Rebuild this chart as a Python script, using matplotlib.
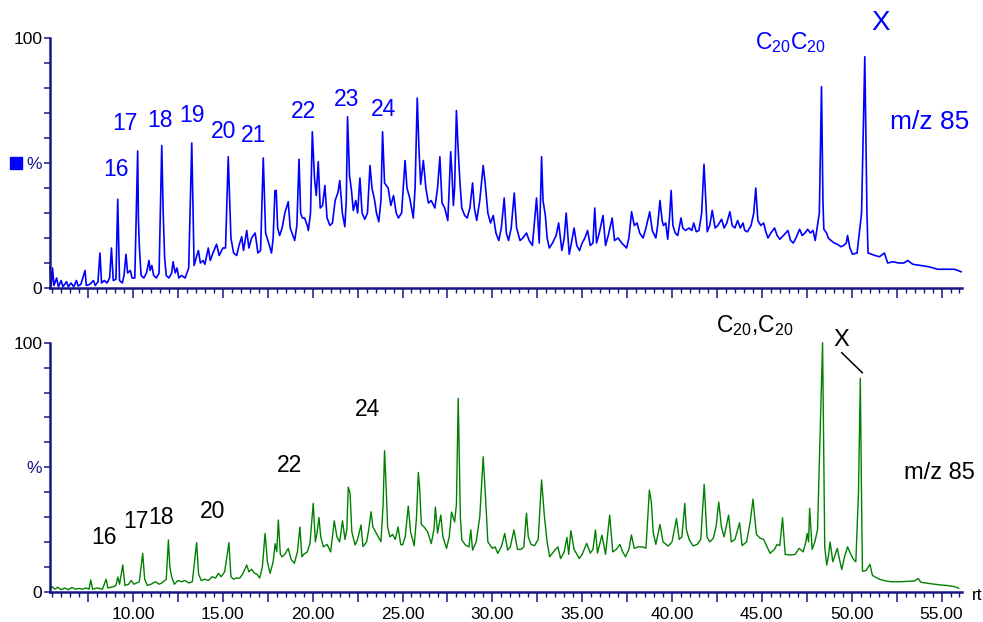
import numpy as np
import matplotlib
matplotlib.use('Agg')
import matplotlib.pyplot as plt
from matplotlib.ticker import MultipleLocator, FixedLocator, FuncFormatter
from matplotlib.patches import Rectangle
from matplotlib.lines import Line2D

plt.rcParams['font.family'] = ['Liberation Sans', 'DejaVu Sans']
plt.rcParams['mathtext.default'] = 'regular'

# traced chromatograms, (retention time, % of base peak)
top_trace = [
    (5.38, 8.5), (5.45, 1), (5.52, 8), (5.6, 1), (5.75, 4), (5.85, 0.5), (6.0, 3), (6.1, 0.5),
    (6.3, 2.5), (6.4, 0.5), (6.55, 2), (6.7, 0.5), (6.85, 3), (6.95, 0.8), (7.1, 1.5), (7.33, 7),
    (7.4, 1), (7.6, 1.5), (7.8, 3), (7.9, 1), (8.05, 2.5), (8.16, 14), (8.25, 2), (8.4, 3),
    (8.55, 2), (8.7, 4), (8.8, 16), (8.9, 3), (9.05, 3.5), (9.15, 35.5), (9.25, 3), (9.4, 2),
    (9.5, 5), (9.61, 13.5), (9.7, 6), (9.85, 7), (9.95, 4), (10.1, 4), (10.26, 54.8), (10.3, 28),
    (10.35, 17), (10.45, 5), (10.6, 4), (10.75, 6), (10.89, 11), (10.95, 7), (11.05, 9), (11.15, 5),
    (11.3, 4), (11.45, 6), (11.6, 57), (11.68, 30), (11.76, 12), (11.85, 5), (12.0, 4), (12.15, 6),
    (12.23, 10.5), (12.35, 6), (12.45, 8), (12.55, 4), (12.7, 5), (12.9, 4), (13.1, 8), (13.27, 58),
    (13.4, 9), (13.55, 13), (13.64, 15), (13.75, 10), (13.9, 11), (14.0, 9.5), (14.19, 16), (14.3, 11),
    (14.45, 14), (14.65, 17.5), (14.8, 13), (15.0, 16), (15.15, 16), (15.3, 52.5), (15.45, 20), (15.6, 14),
    (15.77, 13), (15.9, 17), (16.05, 20.5), (16.15, 15), (16.33, 23), (16.45, 16), (16.6, 20), (16.8, 22),
    (16.95, 14), (17.1, 15), (17.25, 52), (17.38, 22), (17.55, 18), (17.71, 14), (17.8, 20), (17.9, 39),
    (17.97, 39), (18.05, 24), (18.16, 21), (18.3, 24), (18.45, 30), (18.64, 34.5), (18.75, 24), (18.9, 21),
    (19.0, 19), (19.12, 25), (19.24, 51.5), (19.33, 30), (19.43, 28), (19.55, 28), (19.7, 25), (19.76, 23),
    (19.88, 30), (19.98, 62.5), (20.1, 44), (20.2, 37), (20.31, 50.5), (20.42, 32), (20.55, 33), (20.68, 41),
    (20.8, 28), (20.96, 25), (21.1, 26), (21.25, 35), (21.4, 38), (21.51, 43), (21.65, 30), (21.79, 24.5),
    (21.87, 35), (21.94, 68.5), (22.05, 45), (22.16, 39), (22.26, 31), (22.4, 35), (22.5, 30), (22.63, 44),
    (22.75, 30), (22.9, 27.5), (23.05, 30), (23.19, 49), (23.3, 40), (23.45, 35), (23.55, 30), (23.68, 26.5),
    (23.8, 35), (23.89, 62.5), (24.0, 42), (24.2, 40), (24.35, 33), (24.5, 37), (24.65, 30), (24.77, 28),
    (24.95, 30), (25.14, 51), (25.25, 40), (25.4, 36), (25.6, 28), (25.7, 40), (25.82, 76), (25.92, 55),
    (26.01, 41.5), (26.16, 51), (26.3, 40), (26.44, 34), (26.6, 35), (26.8, 32), (26.95, 40), (27.08, 52.5),
    (27.2, 34), (27.35, 32), (27.52, 27), (27.6, 40), (27.68, 54.5), (27.76, 45), (27.83, 33), (27.9, 40),
    (28.0, 71), (28.1, 55), (28.2, 42), (28.3, 32), (28.46, 29), (28.6, 28), (28.75, 32), (28.9, 42),
    (29.0, 32), (29.13, 27), (29.3, 35), (29.49, 49), (29.6, 42), (29.75, 30), (29.9, 26), (30.05, 29),
    (30.2, 22), (30.36, 19), (30.5, 24), (30.66, 36), (30.78, 22), (30.9, 19), (31.05, 24), (31.22, 38),
    (31.35, 24), (31.54, 19), (31.7, 20), (31.9, 22), (32.05, 19), (32.23, 17), (32.46, 36), (32.61, 18),
    (32.68, 35), (32.74, 52.5), (32.82, 35), (32.95, 29), (33.05, 20), (33.17, 16), (33.35, 18), (33.55, 21),
    (33.69, 26), (33.87, 15), (34.0, 20), (34.11, 30), (34.28, 13.5), (34.4, 18), (34.55, 24), (34.7, 17),
    (34.85, 15), (35.0, 18), (35.15, 20), (35.3, 23), (35.45, 17), (35.6, 18), (35.7, 32), (35.8, 18),
    (35.95, 22), (36.16, 29), (36.3, 17), (36.45, 21), (36.67, 28), (36.8, 19), (37.0, 20), (37.2, 18),
    (37.47, 16), (37.6, 20), (37.75, 30.5), (37.9, 25), (38.05, 26), (38.2, 22), (38.39, 20), (38.55, 24),
    (38.76, 30.5), (38.9, 23), (39.1, 20), (39.2, 25), (39.33, 35), (39.45, 27), (39.52, 25), (39.65, 26),
    (39.76, 19.5), (39.86, 28), (39.95, 39), (40.05, 25), (40.18, 22), (40.32, 21), (40.5, 28), (40.6, 24),
    (40.75, 23), (40.95, 24), (41.1, 23), (41.21, 26), (41.35, 22.5), (41.5, 23), (41.65, 30), (41.78, 49.5),
    (41.88, 35), (41.96, 22.5), (42.1, 25), (42.24, 31), (42.4, 24), (42.55, 25), (42.76, 27.5), (42.9, 24),
    (43.05, 26), (43.22, 30.5), (43.35, 25), (43.5, 24), (43.65, 27), (43.8, 24), (43.95, 26), (44.05, 23),
    (44.2, 22.5), (44.4, 25), (44.55, 30), (44.66, 40), (44.78, 27), (44.94, 25), (45.1, 26), (45.2, 23),
    (45.34, 20), (45.5, 22), (45.71, 24), (45.85, 21), (46.0, 19.5), (46.2, 21), (46.45, 23), (46.6, 19),
    (46.75, 18), (46.9, 20), (47.1, 23.5), (47.25, 21), (47.4, 22), (47.55, 23.5), (47.7, 22), (47.85, 23),
    (47.97, 19), (48.2, 30), (48.32, 80.5), (48.4, 35), (48.45, 23.5), (48.6, 22), (48.7, 20), (48.85, 19),
    (49.03, 18), (49.2, 17.5), (49.4, 16.5), (49.55, 17), (49.7, 18), (49.77, 21), (49.9, 16), (50.05, 13.5),
    (50.3, 14), (50.55, 30), (50.73, 92.5), (50.85, 30), (50.91, 14), (51.1, 13.5), (51.3, 13), (51.55, 12.5),
    (51.82, 14), (52.0, 10), (52.3, 10.5), (52.6, 10), (52.9, 10), (53.12, 11), (53.4, 9.5), (53.86, 9),
    (54.3, 8.5), (54.79, 7.5), (55.2, 7.5), (55.72, 7.5), (56.09, 6.5),
]

bottom_trace = [
    (5.38, 1.2), (5.5, 2), (5.65, 1), (5.8, 1.8), (6.0, 0.8), (6.2, 1.5), (6.4, 0.8), (6.6, 1.7),
    (6.8, 1), (7.0, 1.3), (7.2, 1), (7.4, 1.5), (7.55, 1), (7.65, 4.7), (7.75, 1), (8.0, 1.5),
    (8.3, 1), (8.5, 5), (8.6, 1.5), (8.9, 2), (9.05, 2.5), (9.16, 5.9), (9.25, 3), (9.43, 10.7),
    (9.55, 2.5), (9.75, 3), (9.9, 4.5), (10.05, 3), (10.2, 3.5), (10.35, 4), (10.54, 15.4), (10.65, 5),
    (10.8, 2.5), (11.0, 3), (11.25, 4), (11.45, 3), (11.6, 3.5), (11.85, 5), (11.97, 20.8), (12.05, 10),
    (12.15, 6), (12.3, 3), (12.5, 4.5), (12.7, 4), (12.9, 4.5), (13.1, 3.5), (13.3, 4), (13.54, 19.7),
    (13.65, 7), (13.8, 4.5), (14.0, 5), (14.2, 4.5), (14.4, 6), (14.6, 5.5), (14.75, 7.4), (14.9, 6),
    (15.1, 8), (15.34, 19.7), (15.45, 6), (15.6, 5), (15.75, 5.5), (15.93, 5.4), (16.1, 7), (16.33, 10.7),
    (16.45, 8), (16.6, 9), (16.75, 7.5), (16.9, 7), (17.05, 5.5), (17.2, 10), (17.35, 23.4), (17.48, 12),
    (17.63, 7.4), (17.8, 12), (17.91, 19.3), (18.0, 16), (18.09, 28.8), (18.2, 15), (18.3, 14), (18.45, 15),
    (18.64, 17.4), (18.8, 13), (18.98, 11.4), (19.15, 16), (19.29, 26), (19.4, 14), (19.5, 15), (19.7, 16),
    (19.85, 19.4), (20.03, 35.5), (20.15, 20), (20.25, 24), (20.35, 29.8), (20.45, 22), (20.6, 18), (20.8, 19),
    (21.0, 16), (21.1, 22), (21.2, 28.5), (21.35, 22), (21.5, 20), (21.66, 28.5), (21.8, 21), (21.9, 25),
    (21.98, 42), (22.08, 39.5), (22.18, 24), (22.36, 18.75), (22.5, 21), (22.69, 26.8), (22.8, 18.1), (23.0, 20),
    (23.1, 24), (23.25, 32.1), (23.35, 26), (23.55, 23.4), (23.8, 20.1), (23.92, 35), (24.0, 56.6), (24.1, 40),
    (24.17, 26.1), (24.3, 22), (24.45, 23), (24.6, 21), (24.75, 26), (24.9, 19), (25.0, 18.75), (25.15, 22),
    (25.32, 34.4), (25.45, 24), (25.65, 18.4), (25.78, 30), (25.88, 47.9), (25.95, 42), (26.05, 27), (26.2, 26),
    (26.4, 24), (26.6, 19.3), (26.75, 25), (26.83, 34), (26.95, 23.5), (27.13, 30.8), (27.25, 22), (27.45, 17.4),
    (27.6, 22), (27.73, 32), (27.9, 28), (28.0, 35), (28.1, 77.7), (28.22, 30), (28.3, 20.8), (28.5, 18.75),
    (28.7, 18), (28.8, 24.8), (28.9, 16.7), (29.1, 20), (29.3, 30), (29.49, 54.2), (29.62, 38), (29.75, 20),
    (30.0, 17.4), (30.15, 18), (30.3, 15.4), (30.5, 18), (30.69, 23.4), (30.85, 16.7), (31.0, 18), (31.2, 24.8),
    (31.4, 17), (31.6, 17), (31.75, 18), (31.9, 31.5), (32.0, 22), (32.15, 19), (32.35, 18.5), (32.55, 21),
    (32.74, 44.9), (32.9, 30), (33.05, 20), (33.19, 14), (33.4, 16), (33.65, 18), (33.8, 13.3), (34.0, 16),
    (34.15, 21.8), (34.25, 15), (34.37, 24.5), (34.55, 17), (34.84, 13.3), (35.0, 15), (35.25, 19.4), (35.45, 15.5),
    (35.6, 17), (35.74, 24.8), (35.85, 15.5), (36.1, 22.7), (36.3, 15), (36.53, 30.8), (36.7, 16), (36.9, 17),
    (37.1, 19), (37.25, 16), (37.41, 14), (37.6, 17), (37.74, 22.8), (37.9, 17.4), (38.1, 18), (38.35, 18),
    (38.55, 17.5), (38.74, 40.8), (38.85, 36), (38.95, 24), (39.1, 19), (39.33, 27), (39.5, 20), (39.79, 18.3),
    (40.0, 20), (40.25, 29.4), (40.4, 21), (40.55, 22), (40.71, 35.5), (40.8, 25), (40.95, 21), (41.17, 18.4),
    (41.4, 19), (41.6, 21), (41.79, 43.1), (41.95, 22), (42.1, 20), (42.3, 21.5), (42.45, 26), (42.6, 36),
    (42.75, 26), (42.9, 22), (43.15, 30.8), (43.3, 20), (43.5, 21), (43.76, 27.7), (43.9, 18.5), (44.15, 20),
    (44.35, 28), (44.51, 37.2), (44.6, 30), (44.7, 23), (44.9, 21.5), (45.1, 21), (45.46, 15.4), (45.7, 17),
    (45.85, 19), (46.0, 18.5), (46.15, 29.7), (46.3, 15), (46.6, 14.7), (46.85, 15), (47.08, 17.4), (47.3, 16),
    (47.45, 20), (47.52, 23.4), (47.6, 20), (47.66, 33.5), (47.8, 17), (47.95, 20), (48.1, 25), (48.38, 100),
    (48.5, 18), (48.61, 10.7), (48.7, 14), (48.8, 20), (48.95, 12), (49.2, 17.4), (49.35, 12), (49.45, 8.9),
    (49.6, 14), (49.77, 18), (49.95, 15), (50.1, 13), (50.23, 12), (50.38, 40), (50.48, 85.7), (50.56, 30),
    (50.6, 8.2), (50.8, 8.5), (51.02, 11), (51.15, 6.6), (51.4, 5.5), (51.67, 4.7), (52.0, 4.2), (52.23, 4),
    (52.7, 4), (53.2, 4.2), (53.5, 4.3), (53.7, 5.3), (53.85, 3.8), (54.2, 3.4), (54.6, 3.0), (54.94, 2.7),
    (55.3, 2.5), (55.68, 2.1), (55.96, 1.4),
]

top_rt, top_pct = np.array(top_trace).T
bot_rt, bot_pct = np.array(bottom_trace).T

# peak labels: text, pixel x, pixel y
top_labels = [('16', 116, 170), ('17', 125, 123), ('18', 160, 121), ('19', 192, 116),
              ('20', 224, 131), ('21', 254, 136), ('22', 304, 111), ('23', 347, 100), ('24', 384, 109)]
bottom_labels = [('16', 104, 537), ('17', 136, 521), ('18', 161, 517), ('20', 213, 511),
                 ('22', 290, 465), ('24', 368, 409)]

W, H = 983, 622
navy = '#161685'

fig = plt.figure(figsize=(W / 100, H / 100), dpi=100)
ax1 = fig.add_axes([50 / W, 1 - 288 / H, 912 / W, 250 / H])
ax2 = fig.add_axes([50 / W, 1 - 591.7 / H, 912 / W, 249 / H])

def xfmt(v, pos):
    if abs(v / 5 - round(v / 5)) < 1e-6:
        return '%.2f' % v
    return ''

for ax in (ax1, ax2):
    ax.set_xlim(5.38, 56.14)
    ax.set_ylim(0, 100)
    for s in ('top', 'right'):
        ax.spines[s].set_visible(False)
    for s in ('left', 'bottom'):
        ax.spines[s].set_color(navy)
        ax.spines[s].set_linewidth(1.8)
    ax.xaxis.set_major_locator(MultipleLocator(2.5))
    ax.xaxis.set_minor_locator(MultipleLocator(0.5))
    ax.yaxis.set_major_locator(FixedLocator([0, 50, 100]))
    ax.yaxis.set_minor_locator(FixedLocator([10, 20, 30, 40, 60, 70, 80, 90]))
    ax.set_yticklabels(['0', '%', '100'])
    ax.get_yticklabels()[1].set_color(navy)
    ax.get_yticklabels()[1].set_fontsize(10.5)
    ax.tick_params(axis='x', which='major', direction='out', length=7, width=1.1,
                   color=navy, labelsize=12.5, pad=4)
    ax.tick_params(axis='x', which='minor', direction='out', length=3.5, width=1.0, color=navy)
    ax.tick_params(axis='y', which='both', direction='out', length=4.5, width=1.1,
                   color=navy, labelsize=12.5, pad=1)

ax1.xaxis.set_major_formatter(FuncFormatter(lambda v, p: ''))
ax2.xaxis.set_major_formatter(FuncFormatter(xfmt))

ax1.plot(top_rt, top_pct, color='#0000ff', lw=1.2, clip_on=False)
ax2.plot(bot_rt, bot_pct, color='#008000', lw=1.0, clip_on=False)

def ftext(x, y, s, **kw):
    fig.text(x / W, 1 - y / H, s, ha='center', va='center', **kw)

for s, x, y in top_labels:
    ftext(x, y, s, color='#0000ff', fontsize=16.5)
for s, x, y in bottom_labels:
    ftext(x, y, s, color='black', fontsize=16.5)

ftext(791, 43, 'C$_{20}$C$_{20}$', color='#0000ff', fontsize=16.5)
ftext(881, 23, 'X', color='#0000ff', fontsize=20)
ftext(930, 122, 'm/z 85', color='#0000ff', fontsize=19)

ftext(755, 326, 'C$_{20}$,C$_{20}$', color='black', fontsize=16.5)
ftext(841, 340, 'X', color='black', fontsize=17)
ftext(939, 473, 'm/z 85', color='black', fontsize=17)
ftext(977, 596, 'rt', color='black', fontsize=12.5)

fig.add_artist(Line2D([841.7 / W, 862.3 / W], [1 - 352.7 / H, 1 - 372.7 / H],
                      color='black', lw=1.1))
fig.add_artist(Rectangle((10 / W, 1 - 169.3 / H), 11.7 / W, 12 / H,
                         transform=fig.transFigure, color='#0000ff'))

fig.savefig('out.png', dpi=100)
